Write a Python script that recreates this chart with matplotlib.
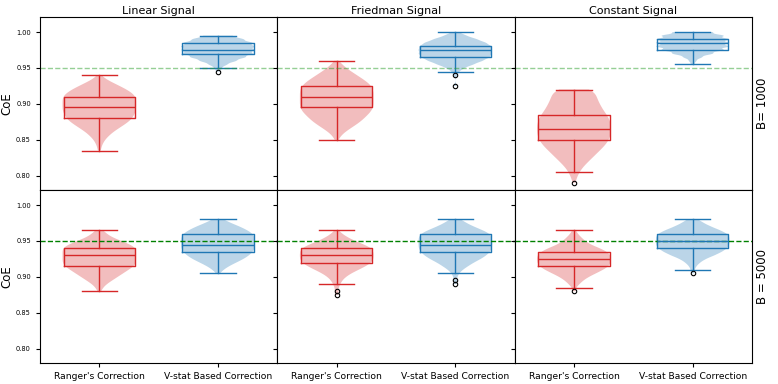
import matplotlib
matplotlib.use("Agg")
import matplotlib.pyplot as plt
import numpy as np

# ========================== DATA ==========================
signals = ["Linear Signal", "Friedman Signal", "Constant Signal"]
row_labels = ["B= 1000", "B = 5000"]
methods = ["Ranger's Correction", "V-stat Based Correction"]
target = 0.95
step = 0.005

# violin samples: (first value, counts on a 0.005 grid), read off the shapes
# B = 1000
lin_r_1000 = (0.835, [1, 1, 2, 3, 5, 7, 10, 13, 16, 18, 19, 20, 20, 20, 20, 20, 18, 15, 11, 7, 3, 1])
lin_v_1000 = (0.945, [1, 2, 5, 10, 15, 19, 20, 20, 19, 14, 8])
fri_r_1000 = (0.850, [1, 2, 4, 7, 10, 13, 15, 17, 19, 20, 20, 20, 20, 20, 20, 19, 17, 14, 11, 8, 5, 3, 1])
fri_v_1000 = (0.925, [1, 0, 0, 1, 2, 5, 10, 15, 19, 20, 20, 20, 17, 12, 6, 2])
con_r_1000 = (0.790, [1, 1, 2, 3, 4, 6, 8, 10, 12, 14, 16, 18, 19, 20, 20, 20, 20, 20, 19, 18, 16, 15, 14, 13, 12, 12, 12])
con_v_1000 = (0.955, [1, 2, 5, 11, 17, 20, 20, 20, 17, 11])
# B = 5000
lin_r_5000 = (0.880, [1, 2, 4, 7, 10, 13, 16, 19, 20, 20, 20, 20, 20, 17, 12, 7, 4, 2])
lin_v_5000 = (0.905, [1, 3, 6, 10, 14, 17, 19, 20, 20, 20, 20, 19, 16, 12, 7, 3])
fri_r_5000 = (0.875, [1, 1, 1, 2, 3, 5, 8, 12, 16, 19, 20, 20, 20, 19, 15, 10, 6, 3, 1])
fri_v_5000 = (0.890, [1, 1, 1, 2, 4, 7, 10, 14, 17, 19, 20, 20, 20, 20, 19, 15, 10, 6, 3])
con_r_5000 = (0.880, [1, 1, 3, 5, 8, 12, 16, 19, 20, 20, 20, 18, 14, 9, 6, 4, 2, 1])
con_v_5000 = (0.905, [1, 1, 2, 4, 7, 12, 16, 19, 20, 20, 20, 19, 15, 10, 6, 3])

samples = [[(lin_r_1000, lin_v_1000), (fri_r_1000, fri_v_1000), (con_r_1000, con_v_1000)],
           [(lin_r_5000, lin_v_5000), (fri_r_5000, fri_v_5000), (con_r_5000, con_v_5000)]]

# box plot summaries per row, columns = Linear, Friedman, Constant
med_r = [[0.895, 0.910, 0.865], [0.930, 0.930, 0.925]]
q1_r = [[0.880, 0.895, 0.850], [0.915, 0.920, 0.915]]
q3_r = [[0.910, 0.925, 0.885], [0.940, 0.940, 0.935]]
lo_r = [[0.835, 0.850, 0.805], [0.880, 0.890, 0.885]]
hi_r = [[0.940, 0.960, 0.920], [0.965, 0.965, 0.965]]
fl_r = [[[], [], [0.790]], [[], [0.880, 0.875], [0.880]]]

med_v = [[0.975, 0.975, 0.985], [0.945, 0.945, 0.950]]
q1_v = [[0.970, 0.965, 0.975], [0.935, 0.935, 0.940]]
q3_v = [[0.985, 0.980, 0.990], [0.960, 0.960, 0.960]]
lo_v = [[0.950, 0.945, 0.955], [0.905, 0.905, 0.910]]
hi_v = [[0.995, 1.000, 1.000], [0.980, 0.980, 0.980]]
fl_v = [[[0.945], [0.940, 0.925], []], [[], [0.895, 0.890], [0.905]]]

colors = ["tab:red", "tab:blue"]


def expand(spec):
    start, counts = spec
    vals = start + step * np.arange(len(counts))
    return np.repeat(vals, counts)


fig, axes = plt.subplots(2, 3, figsize=(7.78, 3.84), dpi=100, sharex=True, sharey=True)
plt.subplots_adjust(left=0.0514, right=0.9666, top=0.9557, bottom=0.0547, wspace=0, hspace=0)

for i in range(2):
    for j in range(3):
        ax = axes[i, j]
        data = [expand(s) for s in samples[i][j]]
        vp = ax.violinplot(data, positions=[1, 2], widths=0.62, showextrema=False, bw_method=0.2)
        for body, c in zip(vp["bodies"], colors):
            body.set_facecolor(c)
            body.set_edgecolor("none")
            body.set_alpha(0.3)

        stats = [
            dict(med=med_r[i][j], q1=q1_r[i][j], q3=q3_r[i][j],
                 whislo=lo_r[i][j], whishi=hi_r[i][j], fliers=fl_r[i][j]),
            dict(med=med_v[i][j], q1=q1_v[i][j], q3=q3_v[i][j],
                 whislo=lo_v[i][j], whishi=hi_v[i][j], fliers=fl_v[i][j]),
        ]
        for k, (st, c) in enumerate(zip(stats, colors)):
            lp = dict(color=c, linewidth=1)
            ax.bxp([st], positions=[k + 1], widths=0.6,
                   boxprops=lp, whiskerprops=lp, capprops=lp, medianprops=lp,
                   flierprops=dict(marker="o", markersize=3.2, markerfacecolor="none",
                                   markeredgecolor="black", markeredgewidth=0.8))

        if i == 0:
            ax.axhline(target, color="tab:green", linestyle="--", linewidth=1, alpha=0.5)
            ax.set_title(signals[j], fontsize=8, pad=2)
        else:
            ax.axhline(target, color="green", linestyle="--", linewidth=1)

        ax.set_xlim(0.5, 2.5)
        ax.set_ylim(0.78, 1.021)
        ax.set_xticks([1, 2])
        ax.set_xticklabels(methods, fontsize=6.6)
        ax.set_yticks([0.80, 0.85, 0.90, 0.95, 1.00])
        ax.set_yticklabels(["0.80", "0.85", "0.90", "0.95", "1.00"])
        ax.tick_params(axis="y", labelsize=4.8, length=3)
        ax.tick_params(axis="x", length=3)
        if j == 0:
            ax.set_ylabel("CoE", fontsize=8.5, labelpad=2)
        if j == 2:
            ax.text(1.046, 0.5, row_labels[i], rotation=90, transform=ax.transAxes,
                    va="center", ha="center", fontsize=8.5)

plt.savefig("out.png", dpi=100)
